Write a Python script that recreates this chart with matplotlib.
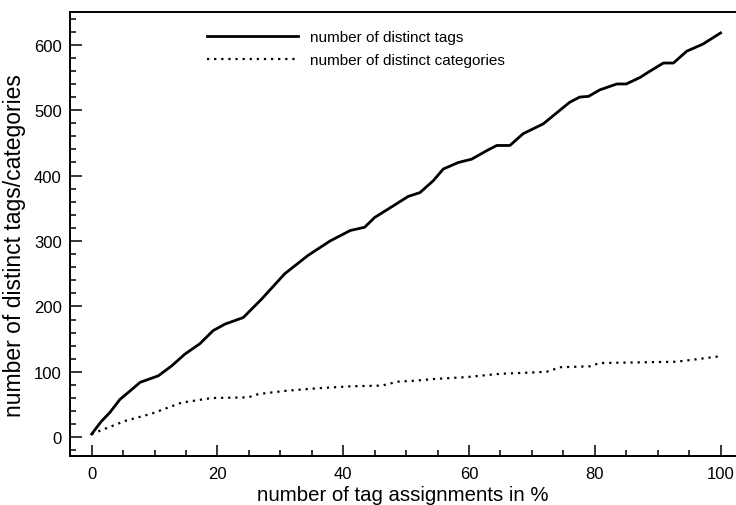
import numpy as np
import matplotlib
matplotlib.use("Agg")
import matplotlib.pyplot as plt
from matplotlib.ticker import MultipleLocator

plt.rcParams['font.family'] = ['Liberation Sans', 'DejaVu Sans']

# percentage of tag assignments processed
tag_pct = [0, 1.5, 2.9, 4.5, 6.0, 7.7, 10.6, 12.7, 14.8, 17.2, 19.3, 21.2, 24.1, 27.0,
           30.7, 34.4, 37.9, 41.1, 43.4, 45.0, 48.0, 50.3, 52.2, 54.3, 55.9,
           58.3, 60.4, 62.8, 64.4, 66.5, 68.6, 71.8, 73.7, 76.0, 77.6, 79.0,
           80.8, 83.5, 85.0, 87.2, 88.5, 90.9, 92.5, 94.6, 97.2, 100.0]
n_tags = [5, 24, 38, 58, 70, 84, 94, 109, 127, 143, 163, 173, 183, 211,
          250, 278, 300, 316, 321, 336, 354, 368, 374, 392, 410,
          420, 425, 438, 446, 446, 464, 479, 494, 512, 520, 521,
          531, 540, 540, 550, 558, 572, 572, 590, 601, 618]

cat_pct = [0, 5.3, 9.5, 14.3, 19.1, 24.9, 26.5, 30.8, 36.0, 41.3, 46.1, 48.7,
           51.4, 54.3, 59.6, 64.9, 72.3, 74.5, 79.2, 80.8, 93.0, 96.8, 100.0]
n_cats = [5, 25, 36, 53, 60, 61, 66, 71, 75, 78, 79, 85,
          86.5, 89, 92, 97, 100, 107, 108.5, 113.5, 115.5, 120, 124]

fig = plt.figure(figsize=(7.36, 5.06), dpi=100)
ax = fig.add_axes([70 / 736, 49 / 506, 666 / 736, 444 / 506])

ax.plot(tag_pct, n_tags, color='black', lw=2.0, label='number of distinct tags')
ax.plot(cat_pct, n_cats, color='black', lw=1.6, linestyle=(0, (1, 2.2)),
        label='number of distinct categories')

ax.set_xlim(-3.45, 102.45)
ax.set_ylim(-28.6, 650)

ax.xaxis.set_major_locator(MultipleLocator(20))
ax.xaxis.set_minor_locator(MultipleLocator(5))
ax.yaxis.set_major_locator(MultipleLocator(100))
ax.yaxis.set_minor_locator(MultipleLocator(20))

for s in ['left', 'bottom', 'top']:
    ax.spines[s].set_linewidth(1.4)
ax.spines['right'].set_visible(False)

ax.tick_params(which='both', direction='in', width=1.1, labelsize=12,
               top=False, right=False)
ax.tick_params(axis='x', which='major', length=8, pad=7)
ax.tick_params(axis='x', which='minor', length=4)
ax.tick_params(axis='y', which='major', length=8.5, pad=6)
ax.tick_params(axis='y', which='minor', length=4.3)

ax.set_xlabel('number of tag assignments in %', fontsize=14.7)
ax.set_ylabel('number of distinct tags/categories', fontsize=16.5)
ax.xaxis.set_label_coords(0.5, -0.065)
ax.yaxis.set_label_coords(-0.066, 0.477)

ax.legend(loc='upper left', bbox_to_anchor=(207 / 736, 1 - 31 / 506),
          bbox_transform=fig.transFigure, frameon=False, fontsize=11,
          handlelength=5.95, handletextpad=0.78, labelspacing=0.6,
          borderpad=0, borderaxespad=0)

fig.savefig('out.png', dpi=100)
